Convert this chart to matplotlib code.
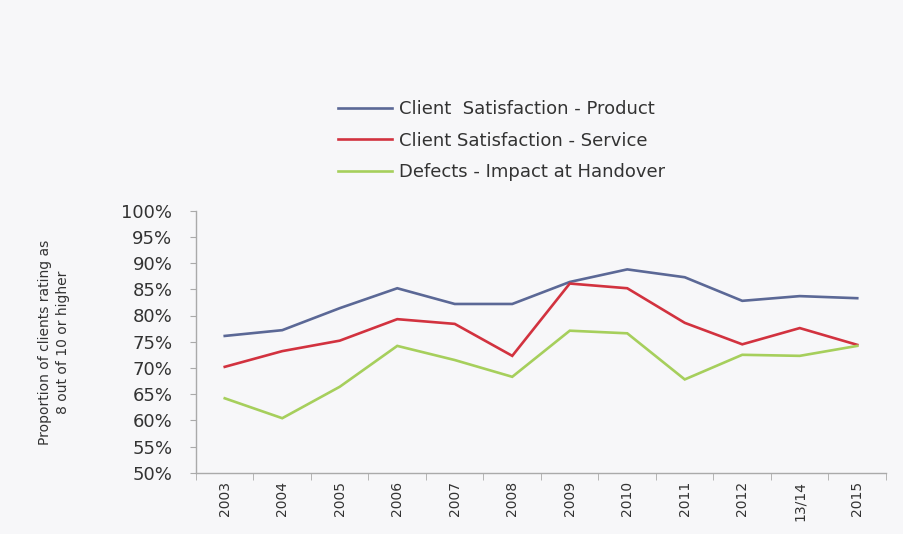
import matplotlib
matplotlib.use("Agg")
import matplotlib.pyplot as plt
import numpy as np

categories = ["2003", "2004", "2005", "2006", "2007", "2008", "2009", "2010",
              "2011", "2012", "13/14", "2015"]
product = [76.1, 77.2, 81.4, 85.2, 82.2, 82.2, 86.4, 88.8, 87.3, 82.8, 83.7, 83.3]
service = [70.2, 73.2, 75.2, 79.3, 78.4, 72.3, 86.1, 85.2, 78.6, 74.5, 77.6, 74.4]
defects = [64.2, 60.4, 66.4, 74.2, 71.5, 68.3, 77.1, 76.6, 67.8, 72.5, 72.3, 74.2]
series_names = ["Client  Satisfaction - Product", "Client Satisfaction - Service",
                "Defects - Impact at Handover"]
yticks = list(range(50, 101, 5))

bg = "#f7f7f9"
fig = plt.figure(figsize=(9.04, 5.34), dpi=100, facecolor=bg)
ax = fig.add_axes([196/904, 1-472.7/534, (886-196)/904, (472.7-210.7)/534])
ax.set_facecolor(bg)

x = np.arange(len(categories))
colors = ["#5b6896", "#d2323f", "#a6cf5c"]
lines = []
for vals, c, n in zip([product, service, defects], colors, series_names):
    l, = ax.plot(x, vals, color=c, lw=1.9, label=n, solid_joinstyle="miter")
    lines.append(l)

ax.set_xlim(-0.5, len(categories) - 0.5)
ax.set_ylim(50, 100)
ax.set_yticks(yticks)
ax.set_yticklabels([f"{v}%" for v in yticks], fontsize=13, color="#333333")
ax.set_xticks(x)
ax.set_xticklabels(categories, rotation=90, fontsize=10, color="#333333")
ax.tick_params(axis="x", length=0, pad=6)
ax.set_xticks(np.arange(-0.5, len(categories), 1), minor=True)
ax.tick_params(axis="x", which="minor", length=5, color="#aaaaaa", direction="out")
ax.tick_params(axis="y", length=4, color="#aaaaaa", pad=13)
for s in ["top", "right"]:
    ax.spines[s].set_visible(False)
for s in ["left", "bottom"]:
    ax.spines[s].set_color("#aaaaaa")
    ax.spines[s].set_linewidth(1.0)

fig.text(54/904, 1-342/534, "Proportion of clients rating as\n8 out of 10 or higher",
         rotation=90, ha="center", va="center", multialignment="center",
         fontsize=10, family="DejaVu Sans", color="#333333", linespacing=1.3)

leg = fig.legend(handles=lines, loc="upper left", bbox_to_anchor=(329/904, 1-91/534),
                 frameon=False, fontsize=13, handlelength=3.0, handletextpad=0.35,
                 labelspacing=0.75, borderpad=0)
for t in leg.get_texts():
    t.set_color("#333333")

fig.savefig("out.png", dpi=100, facecolor=bg)
